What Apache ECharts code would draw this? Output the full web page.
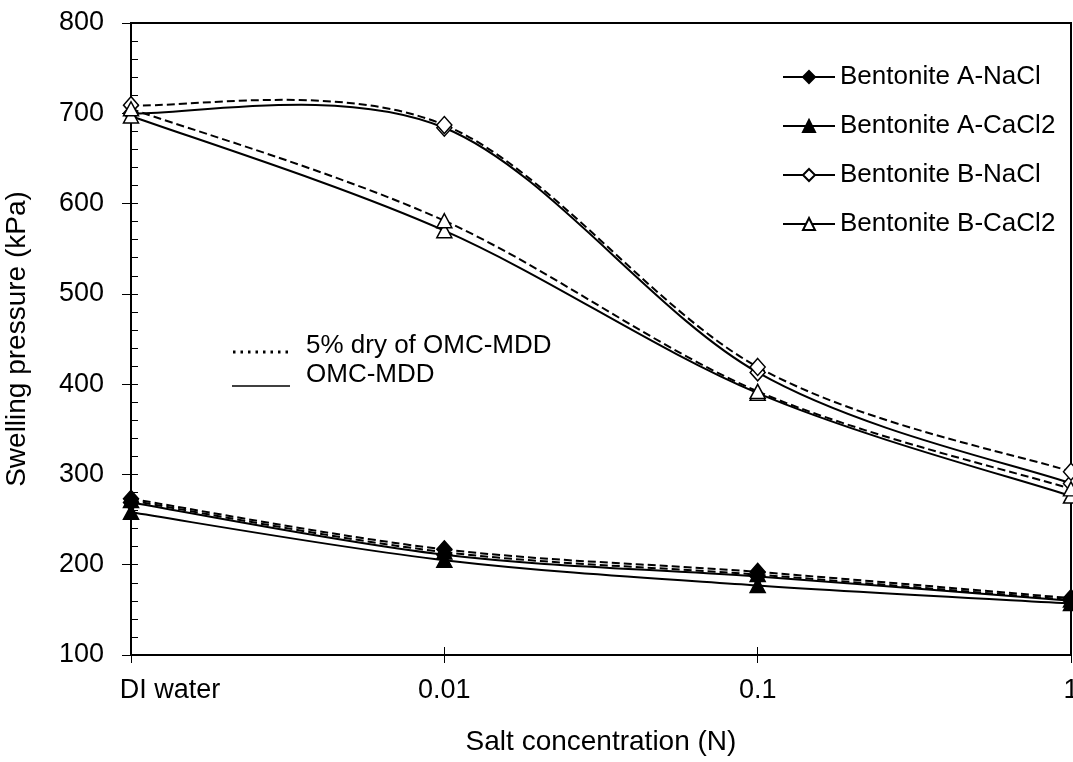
<!DOCTYPE html>
<html>
<head>
<meta charset="utf-8">
<script src="https://cdn.jsdelivr.net/npm/echarts@6/dist/echarts.min.js"></script>
<style>
  html,body{margin:0;padding:0;background:#fff;}
  #chart{width:1073px;height:762px;}
</style>
</head>
<body>
<div id="chart"></div>
<script>
var FONT='"Liberation Sans", Arial, sans-serif';

// salt concentration categories
var cats=['DI water','0.01','0.1','1'];
var yTicks=[100,200,300,400,500,600,700,800];

// swelling pressure (kPa), OMC-MDD (solid) and 5% dry of OMC-MDD (dashed)
var aNaClOmc=[269,211,187,160];
var aNaClDry=[273,217,192,163];
var aCaCl2Omc=[258,205,177,157];
var aCaCl2Dry=[271,214,189,161];
var bNaClOmc=[700,684,413,290];
var bNaClDry=[709,687,419,303];
var bCaCl2Omc=[697,570,390,276];
var bCaCl2Dry=[705,581,392,284];

var names=['Bentonite A-NaCl','Bentonite A-CaCl2','Bentonite B-NaCl','Bentonite B-CaCl2'];

var chart=echarts.init(document.getElementById('chart'));

// markers only (curve is drawn by the custom series below)
var mkMarks=function(name,data,symbol,filled){
  return {
    name:name,
    type:'line',
    data:data,
    z:4,
    symbol:symbol,
    symbolSize:symbol==='diamond'?[15,17]:[15,14],
    showAllSymbol:true,
    lineStyle:{color:'#000',width:2,opacity:0},
    itemStyle:{
      color:filled?'#000':'#fff',
      borderColor:'#000',
      borderWidth:1.5
    },
    emphasis:{disabled:true},
    animation:false
  };
};

// excel-like smoothed curve through the data, using the axis scales
var mkCurve=function(name,data,dashed){
  return {
    name:name+' curve',
    type:'custom',
    z:3,
    data:data.map(function(v,i){return [i,v];}),
    encode:{x:0,y:1},
    silent:true,
    animation:false,
    renderItem:function(params,api){
      if(params.dataIndex!==0) return null;
      var pts=data.map(function(v,i){return api.coord([i,v]);});
      var n=pts.length;
      var kids=[];
      for(var i=0;i<n-1;i++){
        var p0=pts[Math.max(i-1,0)],p1=pts[i],p2=pts[i+1],p3=pts[Math.min(i+2,n-1)];
        kids.push({
          type:'bezierCurve',
          shape:{
            x1:p1[0],y1:p1[1],
            cpx1:p1[0]+(p2[0]-p0[0])/6,cpy1:p1[1]+(p2[1]-p0[1])/6,
            cpx2:p2[0]-(p3[0]-p1[0])/6,cpy2:p2[1]-(p3[1]-p1[1])/6,
            x2:p2[0],y2:p2[1]
          },
          style:{stroke:'#000',fill:null,lineWidth:2,lineDash:dashed?[8,4]:null}
        });
      }
      return {type:'group',children:kids};
    }
  };
};

var series=[
  mkMarks(names[0],aNaClOmc,'diamond',true),
  mkMarks(names[1],aCaCl2Omc,'triangle',true),
  mkMarks(names[2],bNaClOmc,'diamond',false),
  mkMarks(names[3],bCaCl2Omc,'triangle',false),
  mkMarks(names[0],aNaClDry,'diamond',true),
  mkMarks(names[1],aCaCl2Dry,'triangle',true),
  mkMarks(names[2],bNaClDry,'diamond',false),
  mkMarks(names[3],bCaCl2Dry,'triangle',false),
  mkCurve(names[0],aNaClOmc,false),
  mkCurve(names[1],aCaCl2Omc,false),
  mkCurve(names[2],bNaClOmc,false),
  mkCurve(names[3],bCaCl2Omc,false),
  mkCurve(names[0],aNaClDry,true),
  mkCurve(names[1],aCaCl2Dry,true),
  mkCurve(names[2],bNaClDry,true),
  mkCurve(names[3],bCaCl2Dry,true)
];

var option={
  backgroundColor:'#fff',
  textStyle:{fontFamily:FONT,color:'#000'},
  grid:{
    left:131,right:2,top:23,bottom:107,
    show:true,borderColor:'#000',borderWidth:2,
    containLabel:false,
    outerBoundsMode:'none'
  },
  legend:{
    data:names,
    orient:'vertical',
    left:777,
    top:59,
    itemWidth:52,
    itemHeight:15,
    itemGap:23,
    selectedMode:false,
    lineStyle:{color:'#000',width:2,type:'solid',opacity:1},
    textStyle:{fontFamily:FONT,fontSize:26,color:'#000'}
  },
  xAxis:[
    {
      type:'category',
      data:cats,
      boundaryGap:false,
      name:'Salt concentration (N)',
      nameLocation:'middle',
      nameGap:73,
      nameTextStyle:{fontFamily:FONT,fontSize:28,color:'#000'},
      axisLine:{lineStyle:{color:'#000',width:2}},
      axisTick:{length:8,lineStyle:{color:'#000',width:1}},
      axisLabel:{
        interval:0,
        margin:22,
        fontFamily:FONT,fontSize:27,color:'#000',
        formatter:function(v,i){return i===0?'{d|'+v+'}':v;},
        rich:{d:{padding:[0,0,0,78],fontFamily:FONT,fontSize:27,color:'#000'}}
      },
      splitLine:{show:false}
    },
    {
      type:'category',
      data:cats,
      boundaryGap:false,
      position:'bottom',
      axisLine:{show:false},
      axisTick:{inside:true,length:8,lineStyle:{color:'#000',width:1}},
      axisLabel:{show:false},
      splitLine:{show:false}
    }
  ],
  yAxis:[
    {
      type:'value',
      min:yTicks[0],
      max:yTicks[yTicks.length-1],
      interval:100,
      position:'left',
      name:'Swelling pressure (kPa)',
      nameLocation:'middle',
      nameGap:100,
      nameRotate:90,
      nameTextStyle:{fontFamily:FONT,fontSize:28,color:'#000'},
      axisLine:{show:true,lineStyle:{color:'#000',width:2}},
      axisTick:{show:true,length:9,lineStyle:{color:'#000',width:1}},
      axisLabel:{margin:27,fontFamily:FONT,fontSize:27,color:'#000'},
      splitLine:{show:false}
    },
    {
      type:'value',
      min:yTicks[0],
      max:yTicks[yTicks.length-1],
      interval:20,
      position:'left',
      axisLine:{show:false},
      axisTick:{show:true,inside:true,length:7,lineStyle:{color:'#000',width:1}},
      axisLabel:{show:false},
      splitLine:{show:false}
    }
  ],
  graphic:[
    {type:'line',shape:{x1:233,y1:352,x2:290,y2:352},style:{stroke:'#000',lineWidth:3,lineDash:[2.5,5]}},
    {type:'text',x:306,y:346,style:{text:'5% dry of OMC-MDD',font:'26px '+FONT,fill:'#000',verticalAlign:'middle'}},
    {type:'line',shape:{x1:232,y1:386,x2:290,y2:386},style:{stroke:'#000',lineWidth:1.5}},
    {type:'text',x:306,y:375,style:{text:'OMC-MDD',font:'26px '+FONT,fill:'#000',verticalAlign:'middle'}}
  ],
  series:series
};

chart.setOption(option);
</script>
</body>
</html>
